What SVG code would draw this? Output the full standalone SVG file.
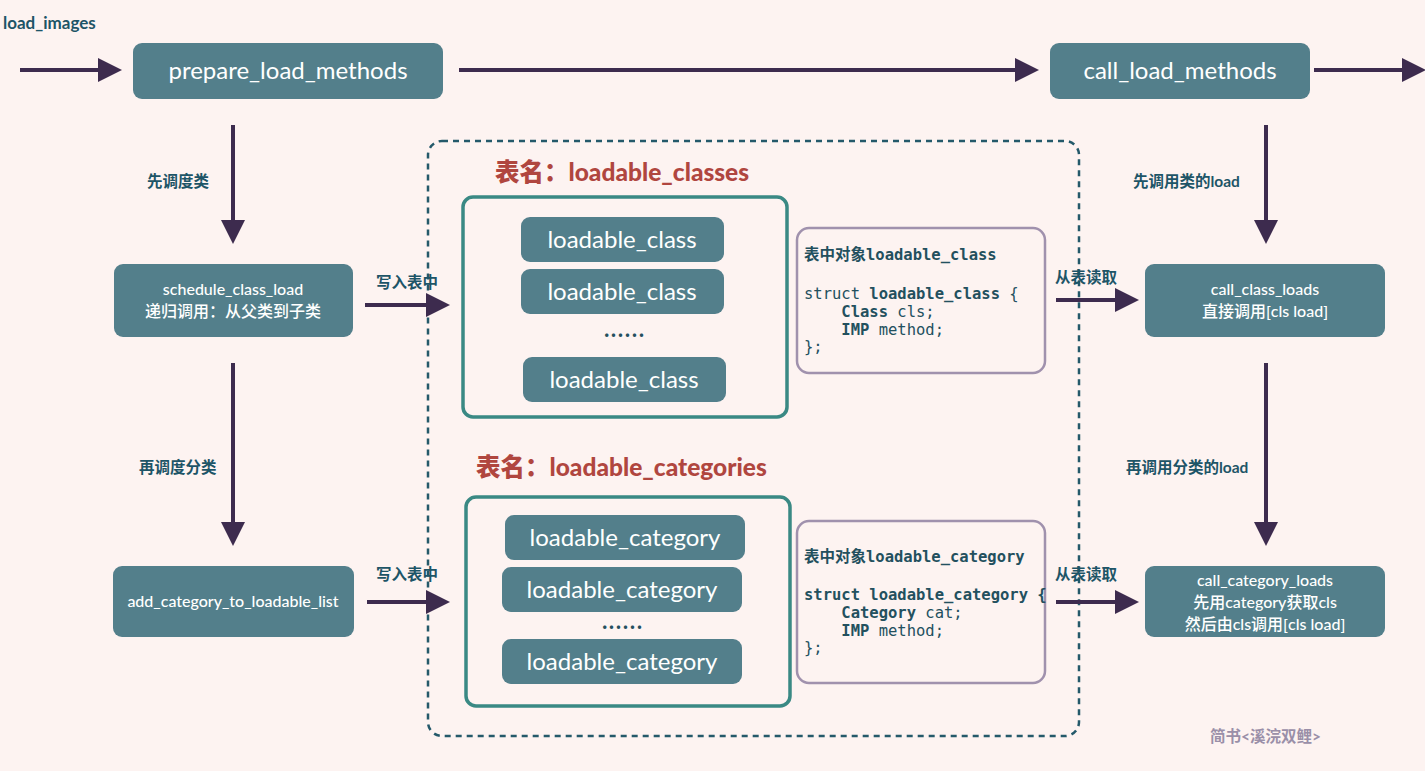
<svg xmlns="http://www.w3.org/2000/svg" width="1425" height="771" viewBox="0 0 1425 771">
<defs>
<marker id="ah" markerWidth="6" markerHeight="6" refX="5" refY="3" orient="auto" markerUnits="strokeWidth">
<path d="M0,0 L6,3 L0,6 Z" fill="#3d2b4e"/>
</marker>
<style>
.node{fill:#537f8b}
.nt{fill:#ffffff;font-family:Lato,"Noto Sans CJK SC",sans-serif;text-anchor:middle}
.big{font-size:24px}
.mid{font-size:16px;font-weight:500}
.conn{stroke:#3d2b4e;stroke-width:4;fill:none;marker-end:url(#ah)}
.lbl{fill:#1d5567;font-family:Lato,"Noto Sans CJK SC",sans-serif;font-size:15.5px;font-weight:bold}
.title{fill:#b0463f;font-family:Lato,"Noto Sans CJK SC",sans-serif;font-size:24.5px;font-weight:900}
.tbl{fill:none;stroke:#3a8984;stroke-width:3.5}
.code{fill:none;stroke:#a091ad;stroke-width:2.5}
.ct{fill:#23505e;font-family:"DejaVu Sans Mono","Noto Sans CJK SC",monospace;font-size:15.5px;white-space:pre}
.b{font-weight:bold}
.dots{fill:#23505e;font-family:Lato,sans-serif;font-size:18px;font-weight:bold;text-anchor:middle;letter-spacing:2px}
</style>
</defs>
<rect width="1425" height="771" fill="#fdf3f1"/>
<text x="3" y="29" class="lbl" style="font-size:17px">load_images</text>

<g id="container">
<rect x="428" y="141" width="651" height="595" rx="14" fill="none" stroke="#24596a" stroke-width="2.5" stroke-dasharray="6,5"/>
</g>

<g id="connectors">
<line x1="20" y1="70" x2="118" y2="70" class="conn"/>
<line x1="459" y1="70" x2="1035" y2="70" class="conn"/>
<line x1="1314" y1="70" x2="1422" y2="70" class="conn"/>
<line x1="233" y1="125" x2="233" y2="240" class="conn"/>
<line x1="233" y1="363" x2="233" y2="542" class="conn"/>
<line x1="1266" y1="125" x2="1266" y2="240" class="conn"/>
<line x1="1266" y1="363" x2="1266" y2="542" class="conn"/>
<line x1="365" y1="305" x2="446" y2="305" class="conn"/>
<line x1="367" y1="602" x2="446" y2="602" class="conn"/>
<line x1="1056" y1="300" x2="1135" y2="300" class="conn"/>
<line x1="1056" y1="602" x2="1135" y2="602" class="conn"/>
<text x="147" y="187" class="lbl">先调度类</text>
<text x="139" y="473" class="lbl">再调度分类</text>
<text x="376" y="288" class="lbl">写入表中</text>
<text x="376" y="580" class="lbl">写入表中</text>
<text x="1055" y="283" class="lbl">从表读取</text>
<text x="1055" y="580" class="lbl">从表读取</text>
<text x="1133" y="187" class="lbl">先调用类的load</text>
<text x="1126" y="473" class="lbl">再调用分类的load</text>
</g>

<g id="prepare_load_methods">
<rect x="133" y="43" width="310" height="56" rx="9" class="node"/>
<text x="288" y="79" class="nt big">prepare_load_methods</text>
</g>
<g id="call_load_methods">
<rect x="1050" y="43" width="260" height="56" rx="9" class="node"/>
<text x="1180" y="79" class="nt big">call_load_methods</text>
</g>
<g id="schedule_class_load">
<rect x="114" y="264" width="239" height="73" rx="9" class="node"/>
<text x="233" y="295" class="nt mid">schedule_class_load</text>
<text x="233" y="317" class="nt mid">递归调用：从父类到子类</text>
</g>
<g id="add_category_to_loadable_list">
<rect x="113" y="566" width="241" height="71" rx="9" class="node"/>
<text x="233" y="607" class="nt mid">add_category_to_loadable_list</text>
</g>
<g id="call_class_loads">
<rect x="1145" y="264" width="240" height="73" rx="9" class="node"/>
<text x="1265" y="295" class="nt mid">call_class_loads</text>
<text x="1265" y="317" class="nt mid">直接调用[cls load]</text>
</g>
<g id="call_category_loads">
<rect x="1145" y="566" width="240" height="71" rx="9" class="node"/>
<text x="1265" y="586" class="nt mid">call_category_loads</text>
<text x="1265" y="608" class="nt mid">先用category获取cls</text>
<text x="1265" y="630" class="nt mid">然后由cls调用[cls load]</text>
</g>

<g id="loadable_classes">
<text x="495" y="181" class="title">表名：loadable_classes</text>
<rect x="463" y="197" width="324" height="220" rx="10" class="tbl"/>
<rect x="521" y="217" width="203" height="45" rx="9" class="node"/>
<text x="622" y="248" class="nt big">loadable_class</text>
<rect x="521" y="269" width="203" height="45" rx="9" class="node"/>
<text x="622" y="300" class="nt big">loadable_class</text>
<text x="625" y="341" class="dots">······</text>
<rect x="523" y="357" width="203" height="45" rx="9" class="node"/>
<text x="624" y="388" class="nt big">loadable_class</text>
</g>

<g id="loadable_categories">
<text x="476" y="476" class="title">表名：loadable_categories</text>
<rect x="466" y="497" width="324" height="209" rx="10" class="tbl"/>
<rect x="505" y="515" width="240" height="45" rx="9" class="node"/>
<text x="625" y="546" class="nt big">loadable_category</text>
<rect x="502" y="567" width="240" height="45" rx="9" class="node"/>
<text x="622" y="598" class="nt big">loadable_category</text>
<text x="623" y="633" class="dots">······</text>
<rect x="502" y="639" width="240" height="45" rx="9" class="node"/>
<text x="622" y="670" class="nt big">loadable_category</text>
</g>

<g id="code_class">
<rect x="797" y="228" width="248" height="145" rx="12" class="code"/>
<text x="804" y="260" class="ct b">表中对象loadable_class</text>
<text x="804" y="299" class="ct">struct <tspan class="b">loadable_class</tspan> {</text>
<text x="804" y="317" class="ct">    <tspan class="b">Class</tspan> cls;</text>
<text x="804" y="335" class="ct">    <tspan class="b">IMP</tspan> method;</text>
<text x="804" y="352" class="ct">};</text>
</g>

<g id="code_category">
<rect x="797" y="521" width="248" height="162" rx="12" class="code"/>
<text x="804" y="562" class="ct b">表中对象loadable_category</text>
<text x="804" y="600" class="ct b">struct loadable_category {</text>
<text x="804" y="618" class="ct">    <tspan class="b">Category</tspan> cat;</text>
<text x="804" y="636" class="ct">    <tspan class="b">IMP</tspan> method;</text>
<text x="804" y="653" class="ct">};</text>
</g>

<text x="1210" y="742" fill="#9a8fa8" font-family="Lato,'Noto Sans CJK SC',sans-serif" font-size="15.5" font-weight="bold">简书&lt;溪浣双鲤&gt;</text>
</svg>
